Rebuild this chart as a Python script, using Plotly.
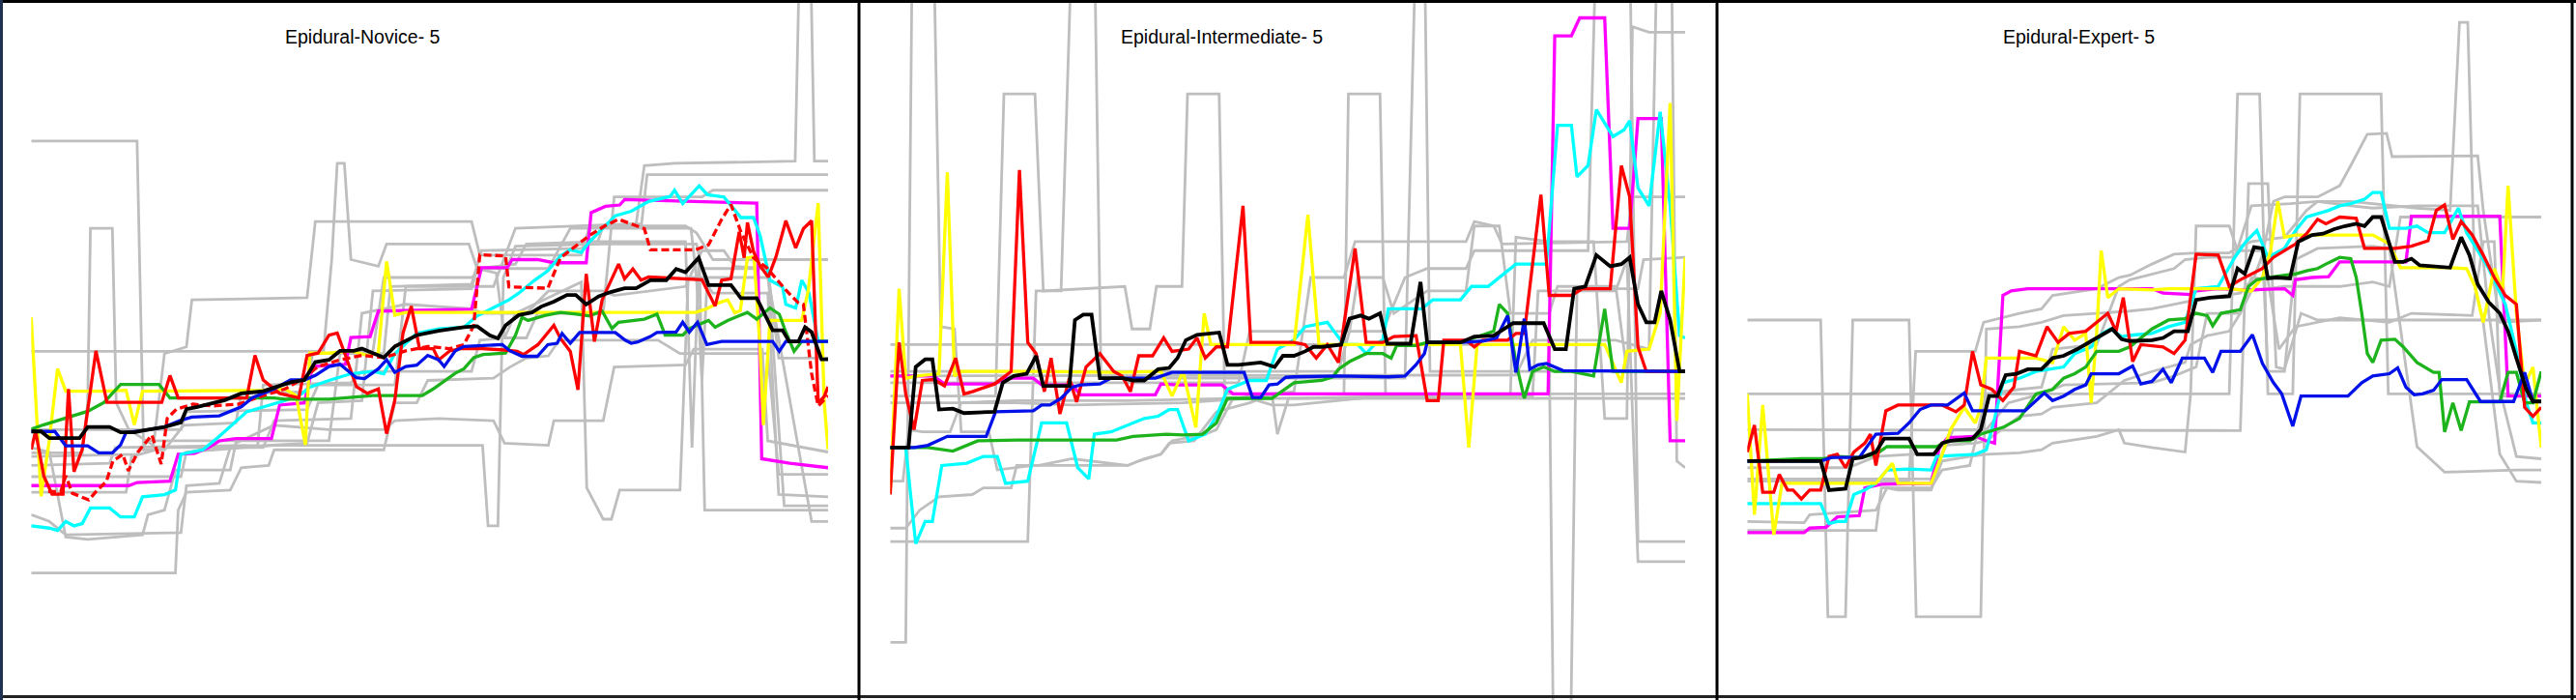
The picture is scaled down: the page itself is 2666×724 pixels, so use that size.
import plotly.graph_objects as go

# ---------------- Titles ----------------
TITLES = ["Epidural-Novice- 5", "Epidural-Intermediate- 5", "Epidural-Expert- 5"]

# ---------------- Panel 1 : Novice (time, score) ----------------
NOV_BLACK = [(5.7,60),(7.5,60),(9,58.5),(14.5,58.5),(16,61),(20,61),(22,59.8),(24.5,59.8),(26,60.2),(30,61),(33,62),(34,65),(36,65.5),(41,67),(44,68.5),(48,69),(50,69.8),(53,71),(55.5,71.5),(57.5,75.5),(60,76),(62,78),(64.5,78),(66,78.5),(68,77.5),(70,76.5),(72,79),(76,81.5),(78,82),(80,82.5),(84.6,83.3),(87,83.5),(89.3,81.5),(90.8,80.8),(92.2,83.7),(94.6,86),(97,86.6),(98.7,87.9),(101,89),(103.4,90.5),(105,90.5),(106.9,88.4),(109.2,90.2),(111.5,91.2),(113.9,92),(116,92),(118.6,93.8),(121.5,93.8),(123.3,96.3),(125,95.6),(127.4,98.8),(129.2,92.7),(133.3,92.7),(135.1,89.8),(138,89.8),(140.9,82.6),(142.7,82.6),(143.9,80.1),(145.6,80.1),(146.8,83.3),(148,82.2),(149.8,76.1),(151,76.1)]
NOV_BLUE = [(5.7,60),(10,60),(12,56.8),(16,56.8),(18,55.2),(20.5,55.2),(22,57),(23,59.8),(26,60.2),(30,61),(33,62.5),(35,63.2),(40,63.5),(42,64.5),(44,65.5),(46,67.5),(48,68.5),(50,69.5),(53,71.5),(55.5,71.5),(57.5,72.5),(60,74.5),(62,75),(65,72),(66.5,71.8),(69,74),(70.5,76),(72,73.2),(74,74.5),(76,74.8),(78,77),(80,76),(81,74.5),(83,78),(84.6,79),(91.6,79.4),(93,78),(95.2,76.8),(98,76.8),(99.9,79.4),(101.6,79.7),(102.5,81.9),(104,79.7),(105.7,82.1),(112.2,82.1),(114,80.4),(115.1,79.7),(116.3,80),(118.6,81.2),(119.8,82.1),(123.3,82.2),(124.5,84.4),(125.7,82.2),(127.2,84.4),(128.9,79.4),(131.6,80.1),(140.9,80.1),(142.1,77.9),(143.3,80.1),(151,80.1)]
NOV_GREEN = [(5.7,60.5),(8,61.5),(12,63),(16,64.5),(19,66.5),(22,70.5),(29,70.5),(31,67.5),(50,67.5),(52,67.2),(60,67.2),(68,68),(77,68),(79,69.5),(83,73),(84.6,74),(86.4,76.5),(88.1,77.2),(92.2,77.5),(94,81.5),(95.2,85.5),(96.3,84.8),(99.3,85.9),(102.2,86.6),(105.1,86.2),(107.5,85.8),(109.8,86.9),(111.6,83),(112.8,84.4),(117.5,85.1),(119.8,86.2),(121.3,81.5),(124.5,81.5),(125.7,83),(129.2,84.8),(130.4,83.3),(132.7,84.8),(136.3,86.6),(138,85.1),(140.4,87.6),(142.1,86.2),(143.3,82.2),(144.8,77.9),(146.2,80.1),(151,80.1)]
NOV_YELLOW = [(5.7,85.5),(7.5,45.5),(9,58),(10.5,74),(12,69),(19,69),(23,69.2),(24.5,61.5),(26,69),(38,69.2),(48,69.2),(52,69.5),(54,68),(55.7,57),(56.5,77.5),(60,77.5),(64,78),(67,77),(69,77.5),(70.5,98),(72,86),(74,86.6),(126.9,86.6),(129,87.5),(131,88.7),(132.7,89.4),(134,86.5),(135,87),(136.3,98.8),(137.5,99),(138.6,78.6),(139.2,61.4),(140.4,84.8),(146.2,84.8),(147.4,91.6),(149.2,111),(150.3,66.4),(151,56)]
NOV_MAGENTA = [(5.7,47.9),(23.5,47.9),(25,48.6),(31,48.9),(32.5,54.9),(35.5,55.1),(38,56.4),(40,57.9),(43,58.4),(49.5,58.4),(51,65.9),(55.5,66.4),(57,74.5),(63,75),(64,81),(67.5,81.2),(69,86.9),(84.6,87.3),(86,87.3),(87.8,96.6),(92.5,96.6),(93.4,98.4),(98,98.4),(101,97.7),(106.9,97.7),(107.8,108.9),(110.4,110.3),(113,110.6),(113.9,111.8),(138,111),(138.9,53.9),(144,52.9),(151,51.9)]
NOV_CYAN = [(5.7,38.9),(9,38.4),(10.5,37.9),(12,39.9),(13.5,38.9),(15,39.4),(16.5,42.9),(20,42.9),(22,40.9),(24.5,40.9),(26,45.4),(30,45.9),(32,46.9),(33,54.9),(37,55.9),(40,58.9),(45,64.4),(49,65.9),(52,66.9),(55,68.4),(56.5,69.9),(60,71.4),(64,72.9),(68,73.4),(70,72.9),(72,77.4),(76,81.9),(80,82.9),(84.6,83.3),(87,85.8),(92.8,89.4),(94.6,90.9),(97.5,93.8),(99.9,95.9),(102.2,99.2),(104,100.6),(106,100),(107.5,102.4),(110.4,106),(112.2,108.2),(115.1,109.2),(118.3,111.4),(122.2,112.5),(123,113.9),(124.5,110.9),(127.5,114.9),(129,112.9),(132,112.4),(133.9,109.6),(135.1,107.8),(137.4,107.8),(138.6,103.8),(140.4,93.8),(142.7,92.3),(143.3,88.4),(145.1,87.6),(146.2,93.8),(147.5,91),(149.2,80.1),(151,80.1)]
NOV_RED = [(5.7,56),(6.5,60),(8,50),(9.5,46),(11.5,46),(12.5,69.5),(13.5,51),(15,56),(17.5,78),(19.5,66.5),(29.5,66.5),(31,72.5),(32.5,67.5),(45,67.5),(46.5,77),(48,71.5),(51,68.5),(54.5,67.5),(56,77),(58,77.5),(60,81.5),(61.5,82),(63,77),(65,70),(67,68.5),(69,69.5),(70.5,59.5),(72,67),(73.5,82),(75,88),(76.5,78.5),(79,78.5),(80,76),(82,78),(84,78.5),(88,78.5),(92,78.2),(94.3,77.9),(95.5,77.2),(98.1,79.4),(101,83.7),(102.2,80.8),(104,77.9),(105.4,69.3),(106.9,95.2),(108.4,80.1),(109.8,89.4),(112.8,97.4),(113.9,94.1),(115.4,96.3),(116.9,93.8),(118.3,94.5),(128,93.9),(130.4,88),(131.6,93.8),(133.3,94.1),(134.8,104.6),(135.7,98.8),(136.3,106.7),(137.4,100.2),(138.6,97),(140.1,94.5),(141.5,99),(143.3,107.1),(145.1,101),(146.5,105.3),(148,107.1),(149.2,66.4),(150.3,67.8),(151,70)]
NOV_RED_DASHED = [(8.8,46.6),(11.1,46.6),(12,50.1),(13.2,46.2),(16.2,44.7),(17.6,46.7),(19.4,48.8),(20.6,53.4),(22.4,54.9),(23.4,51.2),(25.2,55.5),(27.7,59.2),(29.4,52.7),(30.5,62.9),(32.2,65),(35.2,66.1),(38.8,65.7),(43.5,66.1),(48,68),(52,69.5),(55.5,72),(58,74.5),(62,76),(66,77),(70,76.5),(74,78),(78,79),(82,78.5),(84.6,79.4),(86.4,83.7),(87.5,99.5),(92.2,99.2),(92.8,92.3),(99.9,92),(102.2,98.8),(104.6,101),(107.5,103.8),(110.4,106),(112.8,107.4),(117.5,105.3),(118.6,100.6),(126.9,100.6),(129.2,101.7),(131.6,107.4),(133.3,110.7),(135.1,104.6),(137.4,98.8),(139.8,96.6),(143.3,91.6),(145.6,88.7),(146.5,88.4),(148,72.9),(149.2,65.7),(150.3,67.1),(151,68)]
NOV_GRAY_A = [(5.7,124.9),(25,124.9),(26.2,55.9),(30,55.9),(33.5,61.4),(43,61.9),(44,68.4),(56,68.9),(57,77.4),(70,77.4),(71.2,92.4),(86,92.9),(87.8,100.4),(106,100.9),(108,102.4),(125,102.4),(126.2,56.4),(127.5,100.4),(128.5,42.4),(151,42.4)]
NOV_GRAY_B = [(5.7,55.2),(15,55.2),(16,66.4),(16.5,105.4),(20.5,105.4),(21.2,66.4),(23.5,60.4),(28,56.9),(30,77.4),(34,78.9),(35,89.4),(56,89.9),(57.5,106.9),(86,106.9),(87.5,99.4),(106,99.4),(107.5,105.9),(125,105.9),(127,104.4),(130,98.4),(151,98.4)]
NOV_GRAY_C = [(5.7,28.4),(32,28.4),(32.5,42.4),(34,46.4),(42,46.9),(44,51.9),(49,52.4),(50,55.9),(70,55.9),(72,66.4),(76,66.4),(78,71.4),(90,71.9),(93,74.4),(96,76.4),(100,76.9),(102,80.4),(120,80.4),(124,77.4),(140,77.4),(142,50.4),(151,50.4)]
NOV_GRAY_D = [(5.7,77.9),(59,77.9),(60.5,98.4),(61.5,119.9),(62.8,119.9),(64,98.4),(69,96.9),(70.5,101.9),(85.5,101.9),(87,96.4),(90.5,95.4),(92,80.9),(96,80.9),(98,86.4),(110,86.4),(112,112.4),(128,112.4),(130,113.9),(151,113.9)]
NOV_GRAY_E = [(5.7,56.4),(9,55.4),(12,36.4),(16,35.9),(26,36.9),(27,41.4),(30,42.4),(32,51.4),(42,51.4),(43,57.4),(50,61.4),(60,60.4),(70,60.4),(72,62.4),(80,62.9),(90,62.4),(92,57.4),(100,56.9),(101,62.4),(110,62.4),(112,74.4),(125,74.9),(126.5,78.4),(139,78.4),(140,57.9),(151,55.4)]
NOV_GRAY_F = [(5.7,49.9),(33,49.9),(34,55.4),(50,56.9),(88,56.9),(89,38.9),(90.8,38.9),(91.8,94.4),(94,101.4),(110,101.9),(127,101.9),(128,96.4),(140,96.4),(142,76.4),(151,76.4)]
NOV_GRAY_G = [(5.7,60.4),(33,60.4),(34,64.4),(56,64.9),(58,70.4),(72,70.4),(74,92.4),(90,92.4),(94,105.4),(116,106.4),(117.5,119.4),(123,119.9),(145,120.4),(145.8,166.4),(147.8,166.4),(148.5,120.4),(151,120.4)]
NOV_GRAY_H = [(5.7,52.4),(20,52.9),(21,56.4),(47,56.9),(48,70.4),(64,70.9),(66,73.4),(86,73.4),(87.5,80.4),(92,80.9),(94,86.4),(106,93.4),(107,47.4),(110,40.4),(111.5,40.4),(113,46.9),(124,46.9),(125.5,94.4),(128,94.4),(130,90.9),(140,90.9),(142,45.9),(151,45.4)]
NOV_GRAY_I = [(5.7,41.4),(9,39.9),(12,36.9),(33,37.4),(34,47.9),(40,48.4),(42,56.4),(56,57.4),(58,66.4),(66,66.9),(68,91.4),(86,91.9),(87,96.4),(94,97.4),(96,101.9),(109,102.4),(110,105.9),(117,106.4),(118,117.4),(151,117.4)]
NOV_GRAY_J = [(5.7,46.4),(23,46.4),(24,54.4),(30,56.4),(48,56.4),(50,62.4),(64,62.9),(66,86.4),(70,87.4),(74,88.4),(86,87.4),(88,86.4),(96,86.4),(100,91.4),(110,91.4),(112,90.4),(125,92.4),(128,100.4),(132,100.4),(134,96.9),(140,96.4),(143,43.4),(151,43.4)]
NOV_GRAY_K = [(5.7,54.4),(25,54.9),(27,57.9),(60,57.9),(62,77.4),(68,77.9),(70,94.4),(86,94.4),(88,96.4),(100,96.4),(104,105.4),(126,105.4),(127,94.4),(128,71.4),(129,94.4),(140,94.4),(148,39.9),(151,39.9)]

# ---------------- Panel 2 : Intermediate ----------------
INT_BLACK = [(7.2,56.4),(10.5,56.4),(11.8,74.4),(13.5,76.1),(14.8,76.1),(16,64.9),(18.5,65.1),(20.5,64.1),(26,64.4),(27.5,70.9),(29.5,72.4),(31.8,72.9),(33.5,76.9),(34.8,70.2),(39.5,70.2),(40.5,84.9),(42,86.1),(43.5,86.1),(45,71.9),(49,71.9),(51,71.4),(53,71.4),(55.5,73.9),(57.5,74.2),(59,76.4),(60.5,80.4),(62.5,81.6),(64.5,81.9),(66.5,82.1),(68,74.9),(70,74.9),(74,75.4),(76.5,74.4),(78,76.9),(80,76.9),(82,77.9),(83.5,78.9),(85,78.9),(88.5,79.4),(90,85.2),(92,85.9),(93.5,85.2),(95.5,86.4),(96.8,79.6),(101,79.6),(102.8,93.4),(104,79.9),(110,79.9),(112.5,81.2),(116,81.4),(119.5,84.2),(125,84.2),(127,78.4),(129,78.4),(130.5,91.9),(132.5,92.4),(134.5,99.4),(137,96.9),(139,97.4),(140.5,98.9),(142,88.4),(143.5,84.4),(145,84.4),(146.2,91.4),(147.8,84.9),(149.5,73.4),(150.5,73.4)]
INT_BLUE = [(7.2,56.4),(11.5,56.4),(14,56.9),(17.5,58.9),(24.5,58.9),(26.2,64.4),(33,64.6),(34.5,65.9),(36,65.9),(38,67.4),(40,69.9),(41.5,70.4),(45,70.6),(47,71.9),(55,71.9),(58,73.2),(71,73.2),(72.5,67.6),(74,67.6),(75.5,70.4),(77,70.6),(78.5,72.1),(80,72.2),(88,72.4),(97,72.2),(100,72.4),(102,74.9),(103.5,77.4),(104,79.9),(110,79.9),(114,80.2),(116.5,80.9),(118.5,85.9),(120,73.2),(121.5,85.2),(122.5,73.9),(124,74.9),(125.5,75.2),(128.5,73.6),(150.5,73.4)]
INT_GREEN = [(7.2,56.4),(14,56.4),(18.5,55.6),(20,56.4),(23,57.9),(30,58.1),(48,58.1),(51,58.9),(57,59.4),(60,59.2),(63.5,59.4),(66,61.9),(68,67.4),(76,67.4),(80,70.9),(85,71.4),(87,72.2),(88,73.9),(90,75.6),(93,77.4),(96,77.4),(97.5,76.4),(98.5,79.2),(102,79.2),(104,79.9),(110,79.9),(116,82.4),(117,88.4),(118.5,86.4),(120,75.4),(121.5,67.4),(123,73.4),(125,74.4),(127,73.4),(130,73.4),(134,72.4),(136,87.4),(137.5,73.4),(150.5,73.4)]
INT_YELLOW = [(7.2,46.4),(8.8,91.9),(10,71.9),(12,72.4),(16,72.9),(17.5,117.9),(18.8,72.4),(20,73.4),(33,73.4),(48,73.2),(56,73.4),(58,67.9),(60,73.4),(62.3,60.9),(63.8,86.4),(65,79.4),(69,79.4),(80,79.4),(82.5,108.4),(84.5,79.4),(102,79.4),(110,79.4),(111.5,56.4),(113,79.4),(131,79.4),(136,79.4),(139,70.9),(140,77.9),(144,78.4),(146,86.4),(147.8,133.4),(149,62.4),(150.5,98.9)]
INT_RED = [(7.2,45.9),(8.8,79.9),(10,68.4),(11.5,60.4),(13,71.4),(15,71.6),(17,70.2),(19,76.4),(20.5,68.4),(22,68.9),(26,70.6),(29,73.4),(30.5,118.4),(32,79.9),(33.5,77.4),(35,68.9),(36.2,76.4),(37.8,63.9),(39.5,71.9),(40.8,66.6),(42.5,74.4),(45,77.4),(47.5,73.4),(49,72.4),(50.5,68.9),(52,76.9),(54.5,76.9),(56.5,80.9),(58,77.9),(61,78.4),(62.5,80.9),(64,76.4),(66,78.9),(68,78.9),(70.8,110.4),(72.2,79.9),(80,79.9),(82,79.4),(84,76.4),(86,79.4),(88,75.4),(91,100.9),(93,79.9),(96,79.9),(98,81.2),(102,81.4),(104,66.9),(106,66.9),(107,80.4),(111,80.4),(112.5,78.9),(114,80.4),(118.5,80.4),(120,81.9),(121.5,81.9),(124.5,112.9),(126,90.4),(130,90.4),(132,91.9),(137,91.9),(139,119.4),(140.5,112.4),(142,78.9),(143.5,73.4),(150.5,73.4)]
INT_MAGENTA = [(7.2,72.4),(15,72.4),(17,70.6),(26,70.6),(28,71.9),(33,71.9),(34.5,70.4),(40,70.4),(41.5,68.2),(55,68.2),(56,70.6),(59,70.4),(67,70.4),(69,68.4),(125.8,68.4),(127,148.4),(130,148.4),(131.5,152.4),(136,152.4),(137.5,105.4),(140.5,105.4),(142,129.9),(146.2,129.9),(147.8,57.9),(150.5,57.9)]
INT_CYAN = [(7.2,56.4),(10,56.4),(11.8,34.9),(13.5,39.9),(14.8,39.9),(16.5,52.4),(21,52.9),(24,54.4),(26.5,54.4),(28,48.4),(32,48.9),(34.5,61.9),(39,61.9),(41,51.9),(43,49.4),(44,59.4),(47,59.9),(50,61.4),(53,62.9),(55.5,63.4),(57.5,64.9),(59,64.9),(61,57.9),(64,59.4),(66,63.4),(68,69.4),(72,71.4),(75,71.4),(77,78.4),(80,80.4),(82,83.4),(86,84.4),(89,79.4),(91.5,79.4),(93,77.4),(94.5,79.4),(96,80.4),(97,87.4),(103,87.4),(105,89.4),(110,89.4),(112,92.4),(115,92.4),(118,95.4),(120,97.4),(125.5,97.4),(127.5,128.4),(130,128.4),(131,116.9),(133,119.4),(134.5,131.9),(137.5,125.9),(139.5,127.4),(140.5,129.4),(142,114.4),(144,110.4),(146,131.4),(147.8,110.4),(149.5,81.4),(150.5,80.9)]
INT_GRAY_A = [(7.2,67.9),(26.2,67.9),(27.7,135.4),(33.3,135.4),(34.8,91.4),(49.5,92.4),(50.8,82.9),(54,82.9),(55.2,92.4),(59.8,92.4),(60.8,135.4),(66.5,135.4),(67.5,68.4),(89,68.4),(89.8,135.4),(95.5,135.4),(96.5,68.4),(150.5,68.4)]
INT_GRAY_B = [(7.2,12.9),(10,12.9),(11.2,171.4),(15,171.4),(16.3,83.4),(18.8,82.9),(20,59.9),(25,59.9),(26.5,51.4),(33,52.4),(50,52.4),(52,53.4),(56,54.9),(58,57.9),(64,59.4),(66,60.4),(69,67.4),(76,68.4),(77,59.4),(79,67.4),(150.5,67.4)]
INT_GRAY_C = [(7.2,35.4),(32,35.4),(33.5,91.4),(38,91.4),(40,171.4),(44,171.4),(45.2,71.9),(100,71.9),(102,171.4),(103.5,171.4),(104.5,73.4),(150.5,73.4)]
INT_GRAY_D = [(7.2,38.4),(10,38.4),(12.5,42.4),(16,45.4),(22,45.9),(24,47.4),(29,47.4),(30,52.4),(34,52.4),(40,53.9),(50,52.4),(53,53.9),(56,54.9),(57.5,57.4),(62,57.9),(66,64.4),(72,66.4),(76,68.4),(80,68.9),(83,94.4),(89,94.4),(91,102.4),(111,102.4),(112.5,106.9),(116,105.9),(117.5,101.9),(140,102.4),(141,112.4),(150.5,112.4)]
INT_GRAY_E = [(7.2,79.4),(126,79.4),(126.8,-13.6),(129.8,-13.6),(131,91.9),(142,91.9),(143,98.4),(150.5,98.9)]
INT_GRAY_F = [(7.2,73.4),(88,73.4),(90,82.4),(96,82.4),(100,94.4),(104,96.4),(111,96.4),(112.5,100.4),(133,100.4),(134.5,171.4),(140.5,171.4),(142,35.4),(150.5,35.4)]
INT_GRAY_G = [(7.2,66.4),(30,66.4),(40,65.9),(60,66.4),(72,67.4),(76,65.9),(80,65.9),(100,68.4),(119,68.4),(120,103.4),(126,102.4),(134,102.4),(136,62.9),(140,62.9),(141,150.4),(144,149.2),(150.5,149.2)]
INT_GRAY_H = [(7.2,48.9),(9.5,48.9),(10.5,60.4),(13,59.9),(18,59.9),(20,66.4),(30,66.9),(50,66.9),(70,67.4),(80,67.4),(100,67.9),(123,67.9),(124,91.4),(138,91.4),(140,98.4),(142,30.9),(150.5,30.9)]
INT_GRAY_I = [(7.2,72.4),(120,72.6),(123,80.4),(138,80.4),(144,78.4),(145.5,171.4),(148,171.4),(149,53.4),(150.5,51.9)]
INT_GRAY_J = [(7.2,70.9),(70,70.9),(72,82.4),(90,82.4),(91.5,94.4),(96,94.4),(98,86.4),(104,91.4),(111,91.4),(112.5,105.9),(117,105.9),(119,86.4),(126,86.4),(127.5,92.4),(138,92.4),(140,73.4),(150.5,73.4)]

# ---------------- Panel 3 : Expert ----------------
EXP_BLACK = [(6.7,53.4),(20,53.4),(21.5,46.9),(24.5,47.2),(25.8,53.9),(27.5,54.2),(30,55.4),(31.5,58.4),(36,58.4),(37.5,54.9),(40.5,54.9),(42,57.4),(43.5,57.9),(47.5,58.4),(49,60.4),(50.5,67.9),(52,67.9),(53.5,72.6),(55.5,72.9),(57.5,73.9),(60,73.9),(62,76.4),(64,76.9),(66.5,78.4),(69,80.2),(71,81.6),(72.8,82.9),(74.5,80.6),(76,80.2),(80,80.4),(82,80.9),(84,82.4),(86.5,82.4),(88,89.4),(90.5,89.9),(94,90.2),(95.5,96.4),(96.8,95.2),(98.5,101.2),(100,100.9),(101,94.2),(102.5,94.4),(105,94.2),(106.5,102.4),(109,103.9),(111,104.2),(113,105.2),(115,105.9),(117,106.4),(118.5,105.9),(120,107.9),(121.5,107.9),(124,97.9),(125.5,97.9),(127,98.6),(128.5,97.1),(131,96.9),(134,96.6),(136,103.4),(137.5,99.4),(139,92.9),(141,88.9),(143,86.4),(144.5,82.4),(146,76.4),(147.8,69.4),(149,66.7),(150.5,66.7)]
EXP_BLUE = [(6.7,53.4),(20,53.4),(22,54.2),(27,54.2),(30,59.4),(34,59.6),(36,61.9),(38,64.9),(40,65.9),(43,65.9),(46,68.6),(47.5,64.6),(57,64.6),(59,66.9),(60.5,68.6),(62,66.9),(64,67.9),(66,69.4),(68,70.4),(69,72.9),(74,72.9),(76.5,74.6),(78,70.6),(80,71.2),(82,73.9),(83.5,70.9),(85.5,76.4),(89.5,76.4),(91,73.2),(92.5,77.9),(96,77.9),(98.2,81.6),(100,75.2),(102,70.9),(103.5,68.4),(105.5,61.2),(107,67.9),(115.5,67.9),(118,70.9),(120,72.4),(123,72.9),(124.5,74.2),(126,69.9),(127.5,68.2),(129,68.4),(131,69.2),(132.5,71.6),(137,71.6),(139.5,66.7),(145.5,66.7),(147.5,73.2),(149,66.7),(150.5,66.7)]
EXP_GREEN = [(6.7,53.4),(16.5,53.9),(20.5,53.9),(23,54.4),(27,54.2),(30,54.9),(32,56.6),(41,56.6),(43,57.9),(47,57.9),(49,59.4),(53,60.9),(56,62.9),(59,68.4),(62,69.4),(64,71.9),(66,72.9),(68,74.4),(70,77.9),(74,77.9),(76,78.9),(78,80.9),(80,82.9),(83,84.9),(86,85.2),(88,86.4),(90,85.9),(91,83.6),(92.5,86.4),(96,87.2),(97.5,92.4),(99,93.9),(101,94.4),(104,94.9),(106,95.2),(108,95.9),(110,96.4),(111.5,97.4),(114,98.9),(116,98.6),(117,94.4),(118,86.4),(119,77.4),(120,75.4),(121.5,80.4),(124,80.6),(125.5,78.9),(128,75.4),(131,73.2),(132,73.2),(133,59.9),(134.5,66.4),(136,60.2),(137.5,66.6),(143,66.6),(144.5,73.2),(146,73.2),(147.5,66.4),(149,66.4),(150.5,73.4)]
EXP_YELLOW = [(6.7,68.4),(8,41.4),(9.5,65.9),(11.5,36.9),(13,48.4),(20,48.4),(30,48.4),(33,52.9),(34,48.4),(40,48.4),(42,54.9),(43.5,60.4),(46,65.4),(48,61.9),(49,65.4),(50,76.4),(53,76.4),(59,76.4),(62,75.4),(64,83.4),(66,80.4),(68,81.9),(69,66.4),(70,82.4),(70.8,100.4),(72,89.9),(74,91.9),(80,91.6),(83,91.9),(94,91.9),(98,91.4),(100,94.4),(101.5,100.4),(102.8,111.4),(104,103.4),(106,103.9),(120,103.9),(123,101.9),(125,96.6),(134,96.6),(137,96.4),(138.5,92.4),(140,84.4),(142,96.4),(143.5,91.4),(144.5,114.9),(146,86.4),(147.5,70.4),(149,74.4),(150.5,56.4)]
EXP_RED = [(6.7,55.4),(8,61.4),(9.5,46.4),(11.5,46.4),(12.5,50.4),(14,46.9),(15,46.9),(16.5,44.9),(18,46.9),(20,46.9),(21.5,54.4),(23,54.9),(24.5,51.9),(26,55.4),(28,57.4),(29,59.4),(30,52.4),(31.8,64.6),(34,65.9),(42,65.9),(44.5,64.4),(46,65.9),(47.5,77.9),(49,70.4),(51,69.4),(53,66.9),(55,69.9),(56,77.9),(59,76.9),(61,83.4),(63,79.9),(65,81.9),(68,82.4),(70,84.4),(72,86.4),(73.5,82.4),(74.8,89.9),(76.5,75.6),(78,79.4),(82,78.9),(84,77.4),(86,80.4),(88,99.6),(92,99.4),(94,92.4),(96,93.9),(100,96.4),(102,98.9),(106,101.9),(108,104.2),(110,107.4),(111.5,106.4),(114,107.9),(117,107.6),(118.5,100.9),(124,100.9),(127,101.4),(130,102.6),(131.5,109.4),(133,110.6),(134.5,102.9),(136,106.9),(138,103.9),(140,99.4),(142,94.4),(144,90.4),(146,88.4),(147.5,65.4),(149,63.4),(150.5,65.4)]
EXP_MAGENTA = [(6.7,37.4),(17,37.4),(18,38.4),(21,38.6),(23,40.9),(27,41.2),(28,47.4),(31,48.2),(40,48.4),(41.5,56.4),(43,58.6),(48,58.9),(50,57.9),(51.5,57.4),(53,90.4),(54.5,91.4),(57.5,91.9),(80,91.9),(82,90.9),(87,90.6),(88,91.4),(92,91.9),(97,91.6),(104,91.9),(105.5,90.4),(106,93.9),(109,94.4),(112,94.6),(114,97.9),(126,97.9),(127,108.1),(143,108.1),(144.5,67.9),(150.5,67.9)]
EXP_CYAN = [(6.7,43.9),(20,43.9),(21.5,39.4),(23,39.9),(24.5,39.9),(26,45.9),(28,46.9),(30,48.4),(32,51.4),(36,51.6),(40,51.4),(41,54.4),(48,54.9),(50,55.9),(51.5,62.9),(53,70.9),(56,71.9),(59,73.4),(64,74.4),(66,77.4),(69,78.9),(71,81.9),(72.5,82.9),(74.5,81.2),(77,81.6),(80,81.9),(83,83.4),(86,84.4),(88,91.9),(92,92.4),(95,98.9),(97,102.4),(99,104.9),(101,98.9),(104,100.9),(106,104.9),(108,107.9),(112,109.4),(114,110.4),(116,110.9),(118.5,111.9),(120,113.4),(121.5,113.4),(123,105.4),(126,105.4),(128,105.9),(130,104.4),(133,104.4),(135.5,109.9),(137,104.4),(139,100.4),(141,96.4),(144,88.4),(146,77.9),(147.8,66.4),(149,61.9),(150.5,61.9)]
EXP_GRAY_A = [(6.7,84.9),(20,84.9),(21.3,18.6),(24.5,18.6),(25.8,84.9),(36,84.9),(37.3,18.6),(49,18.6),(50,82.9),(56,83.4),(60,84.4),(64,85.9),(70,86.4),(76,86.9),(80,87.4),(84,88.4),(88,89.4),(93,90.4),(96,90.9),(98.5,94.4),(100,99.4),(102,111.4),(104,112.4),(110,112.4),(114,114.9),(116,119.4),(119,126.4),(122.5,126.6),(123.5,121.4),(139,121.6),(140,109.4),(143,84.4),(150.5,84.9)]
EXP_GRAY_B = [(6.7,68.4),(94,68.4),(95.5,135.4),(99.5,135.4),(101,68.4),(105.5,68.4),(106.8,135.4),(121.5,135.4),(122.8,68.4),(150.5,68.4)]
EXP_GRAY_C = [(6.7,60.4),(96,60.2),(97.5,115.4),(101,115.4),(102.5,74.4),(104,73.9),(107,86.4),(110,84.9),(150.5,84.9)]
EXP_GRAY_D = [(6.7,39.9),(17,39.6),(18,41.4),(30,42.4),(32,47.4),(34,46.9),(40,46.9),(42,53.4),(47,54.4),(50,54.9),(56,55.2),(60,55.9),(62,57.4),(70,58.9),(74,60.4),(75,57.4),(80,56.4),(86,55.4),(87,68.4),(88,105.9),(94,105.9),(95.5,100.4),(100,100.4),(101,73.4),(104,73.4),(106,98.4),(110,100.9),(120,101.4),(123,100.9),(128,56.6),(133,50.9),(146,51.4),(150.5,51.4)]
EXP_GRAY_E = [(6.7,37.9),(30,37.9),(31,47.4),(40,47.4),(42,51.4),(47,52.4),(50,68.4),(56,69.4),(60,69.9),(62,78.4),(70,79.4),(74,92.4),(76,93.9),(80,95.2),(84,96.4),(86,98.4),(90,98.9),(95,98.9),(98,110.4),(105,110.9),(110,111.4),(116,110.4),(120,109.9),(128,110.4),(139,110.4),(141,86.4),(143,69.4),(146,54.4),(150.5,53.9)]
EXP_GRAY_F = [(6.7,48.9),(36,48.9),(37.2,77.9),(48,77.9),(49.5,84.4),(56,86.4),(60,87.4),(62,90.4),(70,91.9),(74,94.4),(76,94.9),(80,97.4),(84,99.6),(88,99.9),(94,99.9),(96,101.4),(98,102.4),(104,103.4),(108,109.4),(110,111.4),(116,111.4),(128,109.9),(134,109.4),(135.7,151.4),(137.2,151.4),(138.5,92.4),(140,84.4),(143,54.9),(146,48.9),(150.5,48.6)]
EXP_GRAY_G = [(6.7,51.9),(25,51.9),(30,54.4),(41,55.2),(42,56.9),(48,57.4),(50,57.9),(56,63.4),(60,63.9),(62,65.4),(70,66.4),(75,71.4),(80,73.4),(86,75.4),(87,79.4),(90,81.4),(94,82.4),(96,86.4),(98,91.4),(104,92.4),(114,92.4),(120,93.4),(123,92.4),(125,107.9),(150.5,107.9)]
EXP_GRAY_H = [(6.7,49.4),(40,49.4),(44,60.4),(50,60.4),(54,66.4),(60,68.4),(64,70.4),(80,70.9),(84,72.4),(88,74.4),(90,86.4),(96,86.4),(98,94.4),(101,93.9),(103,78.4),(106,83.4),(114,85.4),(123,84.4),(127,86.4),(138,85.9),(140,102.4),(142,102.4),(143,67.9),(150.5,67.9)]

# ---------------- assemble ----------------
GRAY = "#BEBEBE"
PANEL_SERIES = [
    dict(grays=[NOV_GRAY_A, NOV_GRAY_B, NOV_GRAY_C, NOV_GRAY_D, NOV_GRAY_E, NOV_GRAY_F,
                NOV_GRAY_G, NOV_GRAY_H, NOV_GRAY_I, NOV_GRAY_J, NOV_GRAY_K],
         colored=[(NOV_MAGENTA, "#FF00FF", None), (NOV_CYAN, "#00FFFF", None),
                  (NOV_YELLOW, "#FFFF00", None), (NOV_GREEN, "#1DB31D", None),
                  (NOV_RED_DASHED, "#FF0000", "8px,4px"), (NOV_RED, "#FF0000", None),
                  (NOV_BLUE, "#0010E8", None), (NOV_BLACK, "#000000", None)]),
    dict(grays=[INT_GRAY_A, INT_GRAY_B, INT_GRAY_C, INT_GRAY_D, INT_GRAY_E, INT_GRAY_F,
                INT_GRAY_G, INT_GRAY_H, INT_GRAY_I, INT_GRAY_J],
         colored=[(INT_MAGENTA, "#FF00FF", None), (INT_CYAN, "#00FFFF", None),
                  (INT_YELLOW, "#FFFF00", None), (INT_GREEN, "#1DB31D", None),
                  (INT_RED, "#FF0000", None), (INT_BLUE, "#0010E8", None),
                  (INT_BLACK, "#000000", None)]),
    dict(grays=[EXP_GRAY_A, EXP_GRAY_B, EXP_GRAY_C, EXP_GRAY_D, EXP_GRAY_E, EXP_GRAY_F,
                EXP_GRAY_G, EXP_GRAY_H],
         colored=[(EXP_MAGENTA, "#FF00FF", None), (EXP_CYAN, "#00FFFF", None),
                  (EXP_YELLOW, "#FFFF00", None), (EXP_GREEN, "#1DB31D", None),
                  (EXP_RED, "#FF0000", None), (EXP_BLUE, "#0010E8", None),
                  (EXP_BLACK, "#000000", None)]),
]

W, H = 2666, 724
X_DOMAINS = [(32.3 / W, 857 / W), (921.3 / W, 1744 / W), (1808.3 / W, 2630 / W)]
X_RANGES = [(5.7, 151), (7.2, 150.5), (6.7, 150.5)]
Y_RANGE = (0, 156.4)
TITLE_X = [376 / W, 1264 / W, 2151 / W]

fig = go.Figure()
for i, panel in enumerate(PANEL_SERIES):
    xa = "x" if i == 0 else f"x{i+1}"
    ya = "y" if i == 0 else f"y{i+1}"
    for pts in panel["grays"]:
        fig.add_trace(go.Scatter(x=[p[0] for p in pts], y=[p[1] for p in pts], mode="lines",
                                 line=dict(color=GRAY, width=2.8), xaxis=xa, yaxis=ya,
                                 showlegend=False, hoverinfo="skip"))
    for pts, col, dash in panel["colored"]:
        w = 3.8 if col == "#000000" else 3.3
        fig.add_trace(go.Scatter(x=[p[0] for p in pts], y=[p[1] for p in pts], mode="lines",
                                 line=dict(color=col, width=w, dash=dash), xaxis=xa, yaxis=ya,
                                 showlegend=False, hoverinfo="skip"))

axis_common = dict(visible=False, showgrid=False, zeroline=False, fixedrange=True)
layout = dict(width=W, height=H, margin=dict(l=0, r=0, t=0, b=0, pad=0),
              paper_bgcolor="white", plot_bgcolor="white", showlegend=False)
for i in range(3):
    sx = "" if i == 0 else str(i + 1)
    layout["xaxis" + sx] = dict(domain=list(X_DOMAINS[i]), range=list(X_RANGES[i]),
                                anchor="y" + sx, **axis_common)
    layout["yaxis" + sx] = dict(domain=[0, 1], range=list(Y_RANGE), anchor="x" + sx, **axis_common)
fig.update_layout(**layout)

for i, t in enumerate(TITLES):
    fig.add_annotation(text=t, x=TITLE_X[i], y=1 - 38.4 / H, xref="paper", yref="paper",
                       xanchor="center", yanchor="middle", showarrow=False,
                       font=dict(family="Liberation Sans, Arial, sans-serif", size=19.5, color="black"))

# panel frames
def vline(xp, color, width):
    fig.add_shape(type="line", xref="paper", yref="paper", x0=xp, x1=xp, y0=0, y1=1,
                  line=dict(color=color, width=width))
def hline(yp, color, width):
    fig.add_shape(type="line", xref="paper", yref="paper", x0=0, x1=1, y0=yp, y1=yp,
                  line=dict(color=color, width=width))

hline(1 - 1.5 / H, "#000000", 3)
hline(1 - 720.5 / H, "#222222", 3)
vline(1.5 / W, "#1F3350", 3)
vline(889 / W, "#000000", 3)
vline(1777 / W, "#000000", 3)
vline(2662 / W, "#000000", 3)

fig.write_html("out.html", config={"displayModeBar": False},
               post_script="document.body.style.margin='0px';document.body.style.overflow='hidden';")
